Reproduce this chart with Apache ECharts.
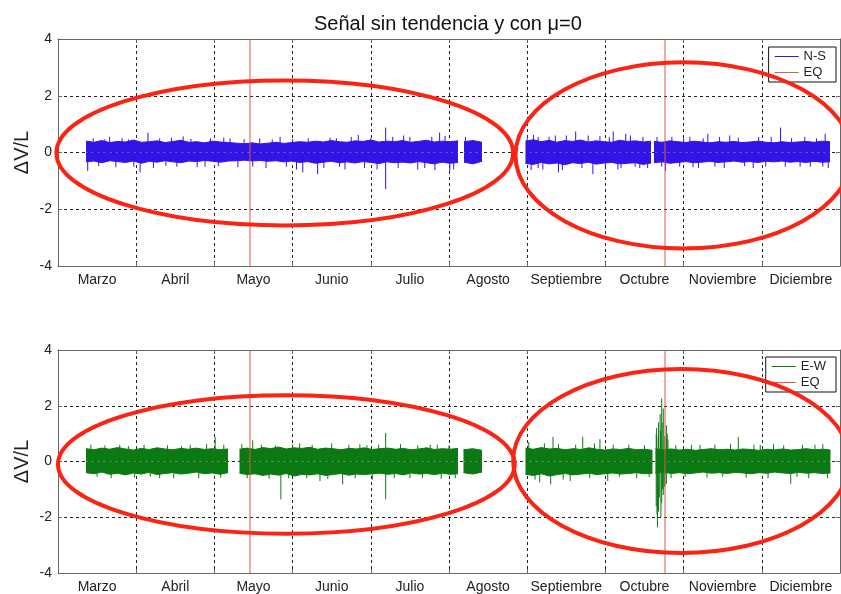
<!DOCTYPE html>
<html><head><meta charset="utf-8">
<script src="https://cdn.jsdelivr.net/npm/echarts@6/dist/echarts.min.js"></script>
<style>html,body{margin:0;padding:0;background:#fff}#c{width:841px;height:594px}</style>
</head><body><div id="c"></div>
<script>
// ---------------- DATA ----------------
const months = ['Marzo','Abril','Mayo','Junio','Julio','Agosto','Septiembre','Octubre','Noviembre','Diciembre'];
const titleText = 'Señal sin tendencia y con μ=0';
const yName = 'ΔV/L';
const eqTimes = [2.455, 7.762];            // month units (0 = start of Marzo)

// N-S record: segments [start, end] (month units) and band envelopes
const nsSegments = [[0.358,5.115],[5.192,5.422],[5.978,7.583],[7.621,9.872]];
const nsUpper = [
  [.40,.36,.42,.35,.39,.37,.44,.36,.38,.41,.35,.39,.43,.36,.38,.34,.40,.37,.35,.33,.31,.34,.30,.33,.36,.32,.35,.38,.36,.40,.37,.42,.38,.36,.41,.39,.44,.37,.40,.38,.42,.36,.39,.43,.37,.40,.38,.41],
  [.38,.42,.36],
  [.40,.45,.38,.43,.36,.42,.39,.44,.37,.41,.38,.36,.43,.39,.41,.37,.40],
  [.39,.36,.41,.38,.35,.40,.37,.34,.38,.36,.39,.35,.37,.40,.36,.34,.38,.35,.37,.39,.36,.40,.38]
];
const nsLower = [
  [-.33,-.30,-.36,-.29,-.32,-.35,-.30,-.38,-.31,-.34,-.29,-.33,-.36,-.30,-.32,-.28,-.31,-.34,-.30,-.29,-.27,-.30,-.28,-.31,-.29,-.33,-.30,-.35,-.32,-.38,-.34,-.31,-.36,-.33,-.37,-.32,-.35,-.39,-.33,-.36,-.34,-.37,-.32,-.36,-.40,-.34,-.38,-.35],
  [-.34,-.40,-.31],
  [-.38,-.42,-.35,-.40,-.37,-.43,-.36,-.39,-.34,-.41,-.37,-.35,-.40,-.38,-.36,-.42,-.37],
  [-.36,-.33,-.38,-.35,-.32,-.36,-.34,-.31,-.35,-.33,-.30,-.34,-.32,-.35,-.31,-.33,-.30,-.34,-.32,-.35,-.31,-.34,-.33]
];
const nsSpikes = [
  [0.38,-0.65],[0.66,0.55],[1.05,-0.70],[1.15,0.70],[1.60,0.57],[1.88,-0.50],[2.20,0.50],[2.49,-0.50],
  [2.84,0.55],[3.13,-0.70],[3.32,-0.76],[3.48,0.52],[3.67,-0.60],[3.84,0.62],[4.19,0.88],[4.19,-1.29],
  [4.50,0.55],[4.69,-0.55],[4.88,0.70],[5.01,-0.65],[5.21,0.55],[6.14,0.55],[6.14,-0.55],[6.05,-0.62],
  [6.36,0.60],[6.40,-0.70],[6.62,0.74],[6.84,-0.76],[6.93,0.58],[7.10,0.74],[7.16,-0.60],[7.26,0.66],
  [7.44,-0.55],[7.54,-0.55],[7.77,-0.65],[8.08,0.55],[8.19,-0.55],[8.31,0.66],[8.59,0.60],[8.89,-0.55],
  [9.24,0.88],[9.49,-0.50],[9.81,0.66],[9.78,-0.50],
  [0.45,0.50],[0.52,-0.48],[0.60,0.47],[0.74,-0.52],[0.82,0.50],[0.90,0.46],[0.97,-0.50],[1.22,-0.55],
  [1.30,0.50],[1.38,-0.47],[1.45,0.52],[1.52,-0.50],[1.70,0.48],[1.78,-0.52],[1.95,0.50],[2.05,-0.48],
  [2.12,0.53],[2.30,-0.52],[2.38,0.47],[2.58,0.50],[2.66,-0.55],[2.74,0.46],[2.92,-0.50],[3.00,0.48],
  [3.05,-0.60],[3.20,0.50],[3.40,-0.55],[3.56,0.50],[3.60,-0.50],[3.75,0.55],[3.92,-0.55],[4.00,0.50],
  [4.08,-0.60],[4.28,0.55],[4.35,-0.55],[4.42,0.60],[4.60,-0.60],[4.78,0.55],[4.82,-0.62],[4.95,0.58],
  [5.06,-0.60],[6.00,0.50],[6.08,0.62],[6.20,-0.60],[6.28,0.55],[6.45,-0.62],[6.50,0.60],[6.70,-0.55],
  [6.78,0.60],[7.00,-0.60],[7.05,0.55],[7.20,-0.55],[7.32,0.60],[7.38,-0.50],[7.48,0.55],[7.66,0.55],
  [7.72,-0.50],[7.85,0.55],[7.95,-0.50],[8.00,0.50],[8.12,-0.52],[8.25,0.50],[8.40,-0.50],[8.46,0.55],
  [8.52,-0.55],[8.70,0.52],[8.78,-0.48],[8.96,0.55],[9.05,-0.50],[9.12,0.55],[9.30,-0.50],[9.38,0.50],
  [9.55,0.55],[9.62,-0.50],[9.70,0.50],[9.85,-0.55]
];

// E-W record
const ewSegments = [[0.358,2.174],[2.321,5.115],[5.185,5.422],[5.978,7.602],[7.641,9.878]];
const ewUpper = [
  [.46,.42,.48,.44,.50,.45,.41,.47,.43,.49,.45,.42,.47,.44,.48,.43,.46,.42,.45],
  [.44,.48,.43,.50,.46,.52,.45,.49,.47,.51,.44,.48,.46,.42,.47,.45,.49,.43,.46,.48,.44,.47,.42,.45,.49,.43,.46,.44,.47],
  [.42,.46,.40],
  [.48,.44,.50,.45,.47,.42,.46,.43,.49,.44,.41,.45,.43,.47,.42,.44,.40],
  [.46,.42,.45,.41,.44,.40,.43,.46,.42,.44,.41,.45,.43,.40,.44,.42,.45,.41,.43,.46,.42,.44,.41]
];
const ewLower = [
  [-.40,-.44,-.38,-.46,-.42,-.48,-.41,-.45,-.39,-.47,-.43,-.40,-.45,-.42,-.38,-.44,-.41,-.46,-.40],
  [-.42,-.47,-.44,-.50,-.45,-.49,-.43,-.52,-.46,-.48,-.44,-.50,-.47,-.43,-.49,-.45,-.47,-.44,-.42,-.46,-.43,-.48,-.41,-.45,-.43,-.47,-.42,-.46,-.44],
  [-.40,-.45,-.38],
  [-.46,-.50,-.44,-.52,-.47,-.43,-.48,-.45,-.42,-.47,-.44,-.41,-.45,-.43,-.40,-.44,-.42],
  [-.42,-.39,-.43,-.40,-.44,-.41,-.38,-.42,-.40,-.43,-.39,-.41,-.44,-.40,-.42,-.38,-.41,-.43,-.39,-.42,-.40,-.43,-.41]
];
const ewSpikes = [
  [0.79,0.60],[1.30,-0.60],[1.69,0.60],[2.01,0.88],[2.49,0.76],[2.85,-1.36],[3.09,0.65],[3.35,-0.70],
  [3.64,-0.82],[3.86,0.62],[4.19,1.02],[4.19,-1.36],[4.50,-0.60],[4.76,0.60],[6.16,-0.75],[6.30,-0.82],
  [6.33,0.88],[6.55,-0.70],[6.71,0.88],[6.93,0.80],[7.03,-0.70],
  [7.65,1.00],[7.65,-1.60],[7.666,-2.36],[7.68,1.40],[7.68,-1.80],[7.70,1.70],[7.72,2.26],[7.72,-1.50],
  [7.74,1.90],[7.74,-1.20],[7.75,-0.90],[7.78,1.30],[7.78,-0.80],[7.80,0.80],
  [7.655,1.20],[7.66,-1.90],[7.675,0.90],[7.69,-1.30],[7.705,1.10],[7.71,-2.00],[7.725,1.40],[7.73,-1.00],
  [7.76,0.90],[7.76,-0.90],[7.79,1.00],
  [8.21,0.60],[8.70,0.88],[8.98,0.60],[9.37,-0.80],[9.68,0.60],
  [0.42,0.60],[0.50,-0.55],[0.60,0.58],[0.68,-0.60],[0.90,0.55],[0.98,-0.58],[1.10,0.60],[1.18,-0.55],
  [1.40,0.58],[1.48,-0.60],[1.58,0.55],[1.80,-0.60],[1.90,0.62],[2.08,-0.58],[2.12,0.60],
  [2.35,0.62],[2.42,-0.60],[2.60,0.60],[2.70,-0.62],[2.78,0.58],[2.95,-0.60],[3.00,0.62],[3.18,-0.60],
  [3.25,0.60],[3.45,-0.62],[3.50,0.65],[3.72,0.60],[3.80,-0.60],[3.95,0.58],[4.02,-0.65],[4.10,0.60],
  [4.30,-0.60],[4.38,0.62],[4.60,0.58],[4.66,-0.60],[4.85,0.60],[4.90,-0.62],[5.00,0.58],[5.08,-0.60],
  [6.02,0.70],[6.10,-0.65],[6.22,0.65],[6.40,0.62],[6.46,-0.65],[6.62,0.60],[6.80,-0.60],[6.86,0.65],
  [7.10,0.60],[7.18,-0.55],[7.30,0.60],[7.40,-0.60],[7.50,0.58],[7.56,-0.55],
  [7.84,-0.60],[7.90,0.58],[8.02,-0.55],[8.10,0.60],[8.30,-0.58],[8.40,0.60],[8.50,-0.55],[8.60,0.62],
  [8.80,-0.58],[8.90,0.60],[9.08,-0.60],[9.15,0.62],[9.28,0.58],[9.45,-0.55],[9.52,0.60],[9.60,-0.60],
  [9.78,0.62],[9.84,-0.60]
];

// Highlight ellipses: [centre month, centre value, x radius (months), y radius (value)]
const nsEllipses = [[2.90,-0.015,2.92,2.555],[8.00,-0.10,2.15,3.28]];
const ewEllipses = [[2.92,-0.105,2.92,2.485],[7.97,0.02,2.15,3.30]];

// ---------------- CHART ----------------
const FONT = '"Liberation Sans", Arial, sans-serif';
const BLUE = '#3214e6', GREEN = '#0b7a12', EQRED = '#e2564c', ELLRED = '#fa2314';
const AXC = '#666';

function envelope(segs, vals) {
  const out = [];
  segs.forEach((s, k) => {
    const v = vals[k], n = v.length;
    for (let i = 0; i < n; i++) out.push([s[0] + i * (s[1] - s[0]) / (n - 1), v[i]]);
    out.push([s[1], null]);
  });
  return out;
}
function eqData() {
  const out = [];
  eqTimes.forEach((t, i) => { if (i) out.push([t, null]); out.push([t, -4], [t, 4]); });
  return out;
}

const grids = [{left:58, right:1, top:39, height:227}, {left:58, right:1, top:350, height:226}];
const xAxes = [], yAxes = [], series = [];
const panels = [
  {name:'N-S', color:BLUE, segs:nsSegments, up:nsUpper, lo:nsLower, spikes:nsSpikes},
  {name:'E-W', color:GREEN, segs:ewSegments, up:ewUpper, lo:ewLower, spikes:ewSpikes}
];
panels.forEach((p, g) => {
  const tick = {show:true, inside:true, length:4, lineStyle:{color:AXC}};
  xAxes.push({type:'value', gridIndex:g, min:0, max:10, interval:1, position:'bottom',
    axisLine:{show:true, onZero:false, lineStyle:{color:AXC}}, axisTick:tick, axisLabel:{show:false},
    splitLine:{show:true, lineStyle:{color:'#222', type:[3,3], width:1}}});
  xAxes.push({type:'value', gridIndex:g, min:0, max:10, interval:1, position:'top',
    axisLine:{show:true, onZero:false, lineStyle:{color:AXC}}, axisTick:tick, axisLabel:{show:false}, splitLine:{show:false}});
  xAxes.push({type:'category', gridIndex:g, data:months, boundaryGap:true, position:'bottom',
    axisLine:{show:false}, axisTick:{show:false}, splitLine:{show:false},
    axisLabel:{fontSize:14, color:'#222', fontFamily:FONT, margin:7, interval:0}});
  yAxes.push({type:'value', gridIndex:g, min:-4, max:4, interval:2, position:'left',
    name:yName, nameLocation:'middle', nameGap:26, nameRotate:90, nameMoveOverlap:false,
    nameTextStyle:{fontSize:20, color:'#222', fontFamily:FONT},
    axisLine:{show:true, onZero:false, lineStyle:{color:AXC}}, axisTick:tick,
    axisLabel:{fontSize:14, color:'#222', fontFamily:FONT, margin:6},
    splitLine:{show:true, lineStyle:{color:'#222', type:[3,3], width:1}}});
  yAxes.push({type:'value', gridIndex:g, min:-4, max:4, interval:2, position:'right',
    axisLine:{show:true, onZero:false, lineStyle:{color:AXC}}, axisTick:tick, axisLabel:{show:false}, splitLine:{show:false}});
  const xi = g * 3, yi = g * 2;
  ['up','lo'].forEach(k => series.push({name:p.name, type:'line', xAxisIndex:xi, yAxisIndex:yi,
    data:envelope(p.segs, p[k]), symbol:'none', connectNulls:false, smooth:false,
    lineStyle:{color:p.color, width:1}, itemStyle:{color:p.color},
    areaStyle:{color:p.color, opacity:1, origin:0}, z:2}));
  series.push({name:p.name, type:'custom', xAxisIndex:xi, yAxisIndex:yi, data:p.spikes, z:3,
    itemStyle:{color:p.color},
    renderItem:(params, api) => {
      const a = api.coord([api.value(0), 0]), b = api.coord([api.value(0), api.value(1)]);
      return {type:'line', shape:{x1:a[0], y1:a[1], x2:b[0], y2:b[1]}, style:{stroke:p.color, lineWidth:1}};
    }});
  series.push({name:'EQ', type:'line', xAxisIndex:xi, yAxisIndex:yi, data:eqData(), symbol:'none',
    connectNulls:false, lineStyle:{color:EQRED, width:1}, itemStyle:{color:EQRED}, z:4});
});

const legendBase = {orient:'vertical', right:5, backgroundColor:'#fff', borderColor:'#111', borderWidth:1,
  padding:[3,10,3,6], itemGap:3, itemWidth:24, itemHeight:1, icon:'rect',
  textStyle:{fontSize:13, color:'#222', fontFamily:FONT}, z:4};

const chart = echarts.init(document.getElementById('c'), null, {renderer:'canvas'});
chart.setOption({
  animation:false,
  backgroundColor:'#fff',
  title:{text:titleText, left:309, top:9, textStyle:{fontSize:20, fontWeight:'normal', color:'#111', fontFamily:FONT}},
  legend:[Object.assign({}, legendBase, {top:47, data:['N-S','EQ']}),
          Object.assign({}, legendBase, {top:357, data:['E-W','EQ']})],
  grid:grids, xAxis:xAxes, yAxis:yAxes, series:series
});

// ellipses placed through the chart's own coordinate conversion
const gfx = [];
[[nsEllipses, 0], [ewEllipses, 4]].forEach(([list, si]) => list.forEach(e => {
  const c = chart.convertToPixel({seriesIndex:si}, [e[0], e[1]]);
  const px = chart.convertToPixel({seriesIndex:si}, [e[0] + e[2], e[1]]);
  const py = chart.convertToPixel({seriesIndex:si}, [e[0], e[1] + e[3]]);
  gfx.push({type:'ellipse', shape:{cx:c[0], cy:c[1], rx:px[0] - c[0], ry:c[1] - py[1]},
    style:{fill:'none', stroke:ELLRED, lineWidth:4}, z:100, silent:true});
}));
chart.setOption({graphic:gfx});
</script></body></html>
